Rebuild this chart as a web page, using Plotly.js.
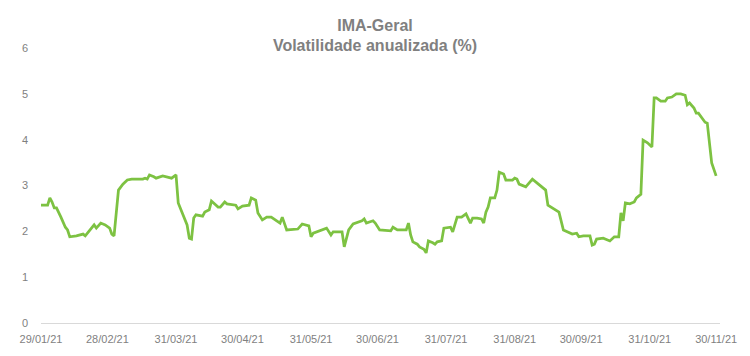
<!DOCTYPE html>
<html>
<head>
<meta charset="utf-8">
<script src="https://cdn.plot.ly/plotly-3.0.1.min.js"></script>
<style>html,body{margin:0;padding:0;background:#fff;}#chart{width:750px;height:356px;}</style>
</head>
<body>
<div id="chart"></div>
<script>
const dates = [
"2021-01-29","2021-02-01","2021-02-02","2021-02-03","2021-02-04","2021-02-05","2021-02-07","2021-02-09","2021-02-10","2021-02-11",
"2021-02-14","2021-02-17","2021-02-18","2021-02-20","2021-02-22","2021-02-23","2021-02-25","2021-02-27","2021-03-01","2021-03-02",
"2021-03-03","2021-03-05","2021-03-07","2021-03-09","2021-03-11","2021-03-16","2021-03-17","2021-03-18","2021-03-19","2021-03-21",
"2021-03-22","2021-03-25","2021-03-29","2021-03-31","2021-04-01","2021-04-05","2021-04-06","2021-04-07","2021-04-08","2021-04-09",
"2021-04-12","2021-04-13","2021-04-15","2021-04-16","2021-04-19","2021-04-20","2021-04-22","2021-04-23","2021-04-27","2021-04-28",
"2021-04-30","2021-05-03","2021-05-04","2021-05-06","2021-05-07","2021-05-09","2021-05-11","2021-05-13","2021-05-17","2021-05-18",
"2021-05-20","2021-05-25","2021-05-27","2021-05-30","2021-05-31","2021-06-01","2021-06-07","2021-06-09","2021-06-10","2021-06-14",
"2021-06-15","2021-06-17","2021-06-19","2021-06-23","2021-06-24","2021-06-25","2021-06-28","2021-06-29","2021-07-01","2021-07-06",
"2021-07-07","2021-07-09","2021-07-13","2021-07-14","2021-07-15","2021-07-16","2021-07-18","2021-07-19","2021-07-21","2021-07-22",
"2021-07-23","2021-07-25","2021-07-26","2021-07-27","2021-07-29","2021-07-30","2021-08-01","2021-08-02","2021-08-03","2021-08-05",
"2021-08-07","2021-08-09","2021-08-11","2021-08-12","2021-08-14","2021-08-16","2021-08-17","2021-08-18","2021-08-19","2021-08-20",
"2021-08-22","2021-08-23","2021-08-24","2021-08-26","2021-08-27","2021-08-30","2021-08-31","2021-09-01","2021-09-02","2021-09-05",
"2021-09-08","2021-09-11","2021-09-14","2021-09-15","2021-09-20","2021-09-22","2021-09-25","2021-09-26","2021-09-28","2021-09-29",
"2021-10-01","2021-10-04","2021-10-05","2021-10-06","2021-10-07","2021-10-10","2021-10-13","2021-10-15","2021-10-17","2021-10-18",
"2021-10-19","2021-10-20","2021-10-22","2021-10-24","2021-10-25","2021-10-27","2021-10-28","2021-10-30","2021-11-01","2021-11-02",
"2021-11-03","2021-11-05","2021-11-07","2021-11-08","2021-11-10","2021-11-12","2021-11-14","2021-11-16","2021-11-17","2021-11-18",
"2021-11-20","2021-11-21","2021-11-22","2021-11-24","2021-11-25","2021-11-26","2021-11-27","2021-11-28","2021-11-30"
];
const volatility = [
2.57,2.57,2.73,2.64,2.51,2.51,2.31,2.09,2.03,1.88,
1.90,1.94,1.90,2.01,2.14,2.07,2.18,2.14,2.07,1.94,
1.90,2.90,3.03,3.12,3.14,3.14,3.16,3.14,3.23,3.19,
3.16,3.21,3.16,3.23,2.62,2.14,1.85,1.83,2.29,2.36,
2.33,2.42,2.47,2.66,2.53,2.53,2.64,2.60,2.57,2.49,
2.55,2.57,2.73,2.68,2.40,2.25,2.31,2.31,2.18,2.31,
2.03,2.05,2.16,2.12,1.88,1.96,2.07,1.92,1.99,1.99,
1.66,2.03,2.16,2.23,2.27,2.18,2.23,2.18,2.03,2.01,
2.09,2.03,2.03,2.18,1.92,1.77,1.72,1.66,1.61,1.53,
1.79,1.75,1.72,1.77,1.79,2.07,2.09,2.09,1.99,2.31,
2.31,2.38,2.18,2.29,2.29,2.27,2.18,2.42,2.53,2.73,
2.73,2.90,3.29,3.25,3.12,3.12,3.16,3.14,3.03,2.97,
3.14,3.01,2.90,2.57,2.42,2.03,1.96,1.94,1.96,1.88,
1.90,1.90,1.70,1.72,1.83,1.85,1.79,1.88,1.88,2.40,
2.23,2.62,2.60,2.64,2.73,2.81,3.99,3.93,3.84,4.91,
4.91,4.84,4.84,4.91,4.93,5.00,5.00,4.97,4.76,4.80,
4.69,4.58,4.58,4.45,4.38,4.36,3.84,3.49,3.21
];
const tickDates = ["2021-01-29","2021-02-28","2021-03-31","2021-04-30","2021-05-31","2021-06-30","2021-07-31","2021-08-31","2021-09-30","2021-10-31","2021-11-30"];
const tickLabels = ["29/01/21","28/02/21","31/03/21","30/04/21","31/05/21","30/06/21","31/07/21","31/08/21","30/09/21","31/10/21","30/11/21"];
const titleLines = ["IMA-Geral","Volatilidade anualizada (%)"];

const FONT = "'Liberation Sans', Arial, sans-serif";
const trace = {
  x: dates, y: volatility, type: 'scatter', mode: 'lines',
  line: {color: '#7dc242', width: 2.75},
  hoverinfo: 'skip'
};
const layout = {
  width: 750, height: 356,
  margin: {l: 41, r: 30, t: 48, b: 33},
  paper_bgcolor: '#ffffff', plot_bgcolor: '#ffffff',
  showlegend: false,
  font: {family: FONT, color: '#7f7f7f', size: 11},
  title: {
    text: titleLines.map(s => '<b>' + s + '</b>').join('<br>'),
    font: {family: FONT, size: 16, color: '#808080'},
    x: 0.5, xref: 'container', xanchor: 'center',
    y: 0.914, yref: 'container', yanchor: 'top'
  },
  xaxis: {
    type: 'date',
    range: ['2021-01-29', '2021-12-01 18:00'],
    tickvals: tickDates, ticktext: tickLabels,
    showgrid: false, zeroline: false,
    showline: true, linecolor: '#d9d9d9', linewidth: 1,
    ticks: '', ticklabelstandoff: 6,
    tickfont: {family: FONT, size: 11, color: '#7f7f7f'},
    fixedrange: true
  },
  yaxis: {
    range: [0, 6], dtick: 1, tick0: 0,
    showgrid: false, zeroline: false, showline: false,
    ticks: '', ticklabelstandoff: 12,
    tickfont: {family: FONT, size: 11, color: '#7f7f7f'},
    fixedrange: true
  }
};
Plotly.newPlot('chart', [trace], layout, {displayModeBar: false, staticPlot: true});
</script>
</body>
</html>
